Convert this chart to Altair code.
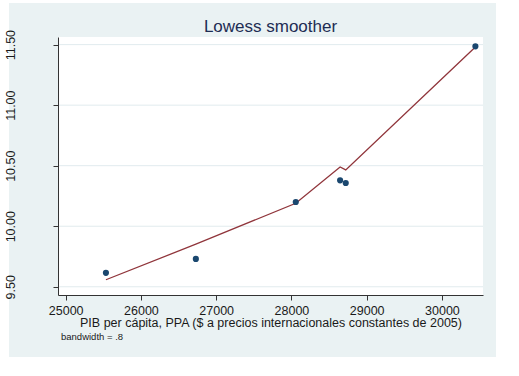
import altair as alt
import pandas as pd

# data
gdp = [25535, 26730, 28058, 28647, 28722, 30445]
obs = [9.615, 9.73, 10.20, 10.379, 10.357, 11.486]
smooth = [9.558, 9.852, 10.19, 10.49, 10.465, 11.48]
x_ticks = [25000, 26000, 27000, 28000, 29000, 30000]
y_ticks = [9.5, 10.0, 10.5, 11.0, 11.5]

df = pd.DataFrame({"gdp": gdp, "obs": obs, "smooth": smooth})
grid_df = pd.DataFrame({"yt": y_ticks})

FONT = "Liberation Sans"
BG = "#eaf2f3"
W, H = 425, 258

xscale = alt.Scale(domain=[24898, 30546], nice=False, zero=False)
yscale = alt.Scale(domain=[9.432, 11.563], nice=False, zero=False)

xaxis = alt.Axis(
    values=x_ticks, format="d", grid=False,
    title="PIB per cápita, PPA ($ a precios internacionales constantes de 2005)",
    titleFontSize=12.5, titleFont=FONT, titleFontWeight="normal", titleColor="#1a1a1a",
    titlePadding=0, labelPadding=4, labelFontSize=12.5, labelFont=FONT, labelColor="#1a1a1a",
    tickSize=5, tickColor="#333333", domainColor="#333333", labelFlush=False, zindex=1,
)
yaxis = alt.Axis(
    values=y_ticks, format=".2f", grid=False,
    title=None, labelAngle=270, labelAlign="center", labelBaseline="bottom",
    labelPadding=36, labelFontSize=12.5, labelFont=FONT, labelColor="#1a1a1a",
    tickSize=5, tickColor="#333333", domainColor="#333333", labelFlush=False, zindex=1,
)

def strip(x0, x1, y0, y1):
    return alt.Chart(df.head(1)).mark_rect(color="white", clip=False).encode(
        x=alt.value(x0), x2=alt.value(x1), y=alt.value(y0), y2=alt.value(y1)
    )

margins = [
    strip(438, 470, -40, 345),   # right
    strip(-60, 470, 320, 345),   # bottom
    strip(-60, -49, -40, 345),   # left
    strip(-60, 470, -40, -34),   # top
]

grid = alt.Chart(grid_df).mark_rule(color="#e1ebee", strokeWidth=1).encode(
    y=alt.Y("yt:Q", scale=yscale, axis=yaxis),
    x=alt.value(0), x2=alt.value(W),
)

base = alt.Chart(df)
line = base.mark_line(color="#90353b", strokeWidth=1.3).encode(
    x=alt.X("gdp:Q", scale=xscale, axis=xaxis),
    y=alt.Y("smooth:Q", scale=yscale, axis=yaxis),
)
pts = base.mark_circle(color="#1a476f", opacity=1, size=38).encode(
    x=alt.X("gdp:Q", scale=xscale),
    y=alt.Y("obs:Q", scale=yscale),
)

note = alt.Chart(df.head(1)).mark_text(
    text="bandwidth = .8", font=FONT, fontSize=9.5, align="left", baseline="alphabetic",
    color="#1a1a1a",
).encode(x=alt.value(3), y=alt.value(303))

title = alt.Chart(df.head(1)).mark_text(
    text="Lowess smoother", font=FONT, fontSize=17, align="center", baseline="alphabetic",
    color="#1e2d53",
).encode(x=alt.value(W / 2), y=alt.value(-5.5))

chart = alt.layer(*margins, grid, line, pts, note, title).properties(
    width=W, height=H,
    autosize=alt.AutoSizeParams(type="none"),
    padding={"left": 58, "top": 37, "right": 36, "bottom": 81},
    background=BG,
).configure_view(fill="white", stroke=None)

chart.save("out.html", embed_options={"renderer": "svg", "actions": False})
